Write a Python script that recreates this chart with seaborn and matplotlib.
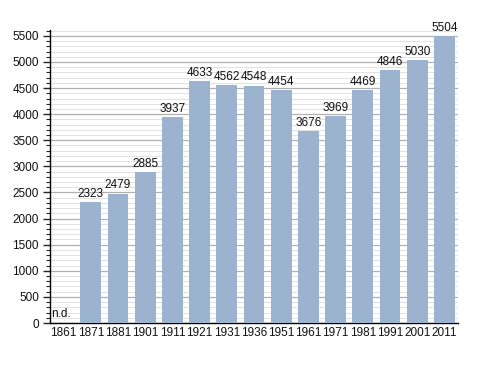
import matplotlib
matplotlib.use("Agg")
import matplotlib.pyplot as plt
import seaborn as sns
import pandas as pd
import numpy as np
from matplotlib.ticker import MultipleLocator

years = ["1861", "1871", "1881", "1901", "1911", "1921", "1931", "1936",
         "1951", "1961", "1971", "1981", "1991", "2001", "2011"]
population = [0, 2323, 2479, 2885, 3937, 4633, 4562, 4548,
              4454, 3676, 3969, 4469, 4846, 5030, 5504]
labels = ["n.d.", "2323", "2479", "2885", "3937", "4633", "4562", "4548",
          "4454", "3676", "3969", "4469", "4846", "5030", "5504"]

df = pd.DataFrame({"year": years, "pop": population})

sns.set_style("white")
plt.rcParams["font.family"] = ["Liberation Sans", "DejaVu Sans"]

fig = plt.figure(figsize=(4.88, 3.73), dpi=100)
ax = fig.add_axes([0.1025, 0.134, 0.836, 0.786])

sns.barplot(data=df, x="year", y="pop", color="#9bb3cf", width=0.77,
            saturation=1, ax=ax, zorder=3, linewidth=0)

ax.set_ylim(0, 5615)
ax.set_xlim(-0.5, len(years) - 0.5)
ax.yaxis.set_major_locator(MultipleLocator(500))
ax.yaxis.set_minor_locator(MultipleLocator(100))
ax.grid(which="major", axis="y", color="#b0b0b0", lw=0.9, zorder=0)
ax.grid(which="minor", axis="y", color="#e2e2e2", lw=0.7, zorder=0)
ax.set_axisbelow(True)

for s in ["top", "right"]:
    ax.spines[s].set_visible(False)
for s in ["left", "bottom"]:
    ax.spines[s].set_color("black")
    ax.spines[s].set_linewidth(1.0)

ax.tick_params(axis="y", which="major", length=5, width=1, direction="out",
               labelsize=8.5, left=True, pad=3, labelcolor="#111111")
ax.tick_params(axis="y", which="minor", length=3, width=0.8, direction="out", left=True)
ax.tick_params(axis="x", length=0, labelsize=8.5, pad=3, labelcolor="#111111")
ax.set_xlabel("")
ax.set_ylabel("")

for i, (v, lab) in enumerate(zip(population, labels)):
    if lab == "n.d.":
        ax.text(i - 0.45, 60, lab, ha="left", va="bottom", fontsize=8.5, color="#111111")
    else:
        ax.text(i, v + 40, lab, ha="center", va="bottom", fontsize=8.5, color="#111111")

fig.savefig("out.png", dpi=100)
